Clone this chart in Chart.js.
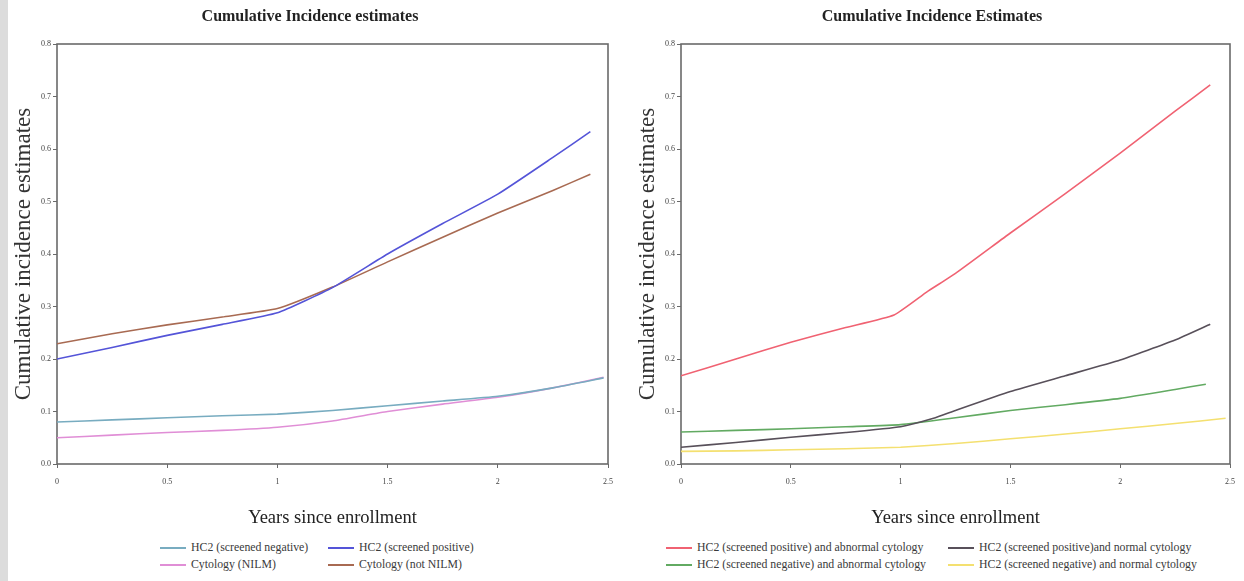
<!DOCTYPE html>
<html>
<head>
<meta charset="utf-8">
<script src="https://cdn.jsdelivr.net/npm/chart.js@4.4.1/dist/chart.umd.min.js"></script>
<style>
  body { margin: 0; width: 1244px; height: 581px; background: #fff; position: relative; overflow: hidden; font-family: 'Liberation Serif', serif; }
  .strip { position: absolute; left: 0; top: 0; width: 8px; height: 581px; background: #dcdcdc; }
  .box { position: absolute; top: 0; height: 540px; }
  .item { position: absolute; white-space: nowrap; font-size: 11.8px; color: #3a3a3a; line-height: 13px; }
  .item i { display: inline-block; width: 26px; height: 0; border-top: 2px solid; vertical-align: middle; margin-right: 5px; }
</style>
</head>
<body>
<div class="strip"></div>
<div class="box" style="left:0;width:622px"><canvas id="leftChart"></canvas></div>
<div class="box" style="left:624px;width:620px"><canvas id="rightChart"></canvas></div>
<div id="leftLegend"></div>
<div id="rightLegend"></div>
<script>
// time grid (years since enrollment)
const tMain = [0, 0.25, 0.5, 0.75, 1, 1.25, 1.5, 1.75, 2, 2.25, 2.42];
const tLong = [0, 0.25, 0.5, 0.75, 1, 1.25, 1.5, 1.75, 2, 2.25, 2.48];
const tRed = [0, 0.25, 0.5, 0.75, 0.97, 1.12, 1.25, 1.5, 1.75, 2, 2.25, 2.41];
const tGray = [0, 0.25, 0.5, 0.75, 1, 1.15, 1.25, 1.5, 1.75, 2, 2.25, 2.41];
const tGreen = [0, 0.25, 0.5, 0.75, 1, 1.25, 1.5, 1.75, 2, 2.25, 2.39];

// left panel
const hc2Neg = [0.080, 0.084, 0.088, 0.092, 0.095, 0.102, 0.111, 0.120, 0.129, 0.145, 0.164];
const hc2Pos = [0.200, 0.222, 0.245, 0.266, 0.288, 0.336, 0.400, 0.458, 0.514, 0.584, 0.633];
const cytoNilm = [0.050, 0.055, 0.060, 0.064, 0.070, 0.082, 0.100, 0.114, 0.127, 0.145, 0.165];
const cytoNotNilm = [0.229, 0.248, 0.265, 0.280, 0.296, 0.337, 0.385, 0.432, 0.478, 0.521, 0.552];

// right panel
const posAbnormal = [0.168, 0.200, 0.232, 0.260, 0.284, 0.328, 0.363, 0.440, 0.515, 0.592, 0.672, 0.722];
const posNormal = [0.032, 0.041, 0.051, 0.060, 0.071, 0.087, 0.102, 0.138, 0.168, 0.198, 0.236, 0.266];
const negAbnormal = [0.061, 0.064, 0.067, 0.071, 0.075, 0.088, 0.102, 0.113, 0.125, 0.142, 0.152];
const negNormal = [0.024, 0.025, 0.027, 0.029, 0.032, 0.039, 0.048, 0.057, 0.067, 0.077, 0.087];

const yTicks = [0, 0.1, 0.2, 0.3, 0.4, 0.5, 0.6, 0.7, 0.8];
const xTicks = [0, 0.5, 1, 1.5, 2, 2.5];

const leftSeries = [
  { label: 'HC2 (screened negative)', x: tLong, y: hc2Neg, color: '#78acc0' },
  { label: 'HC2 (screened positive)', x: tMain, y: hc2Pos, color: '#5454d8' },
  { label: 'Cytology (NILM)', x: tLong, y: cytoNilm, color: '#e08ed6' },
  { label: 'Cytology (not NILM)', x: tMain, y: cytoNotNilm, color: '#a86a52' }
];
const rightSeries = [
  { label: 'HC2 (screened positive) and abnormal cytology', x: tRed, y: posAbnormal, color: '#f06272' },
  { label: 'HC2 (screened positive)and normal cytology', x: tGray, y: posNormal, color: '#58505a' },
  { label: 'HC2 (screened negative) and abnormal cytology', x: tGreen, y: negAbnormal, color: '#62aa62' },
  { label: 'HC2 (screened negative) and normal cytology', x: tLong, y: negNormal, color: '#f4e070' }
];

const FONT = 'Liberation Serif, Times New Roman, serif';

const frame = {
  id: 'frame',
  beforeDatasetsDraw(chart) {
    const { ctx, chartArea: a } = chart;
    ctx.save();
    ctx.strokeStyle = '#6a6a6a';
    ctx.lineWidth = 1.6;
    ctx.strokeRect(a.left, a.top, a.right - a.left, a.bottom - a.top);
    ctx.restore();
  }
};

function makeChart(id, title, series, padRight) {
  const datasets = series.map(s => ({
    label: s.label,
    data: s.x.map((x, i) => ({ x: x, y: s.y[i] })),
    borderColor: s.color,
    borderWidth: 1.6,
    pointRadius: 0,
    fill: false,
    tension: 0.15
  }));
  return new Chart(document.getElementById(id), {
    type: 'line',
    data: { datasets: datasets },
    plugins: [frame],
    options: {
      responsive: true,
      maintainAspectRatio: false,
      animation: false,
      layout: { padding: { left: 8, right: padRight, top: 0, bottom: 0 } },
      plugins: {
        legend: { display: false },
        tooltip: { enabled: false },
        title: {
          display: true,
          text: title,
          color: '#222',
          font: { family: FONT, size: 16, weight: 'bold' },
          padding: { top: 7, bottom: 17.8 }
        }
      },
      scales: {
        x: {
          type: 'linear', min: 0, max: 2.5,
          afterBuildTicks: s => { s.ticks = xTicks.map(v => ({ value: v })); },
          ticks: { font: { family: FONT, size: 8 }, color: '#444', padding: 9, maxRotation: 0, callback: v => String(v) },
          grid: { drawOnChartArea: false, tickLength: 4, color: '#6a6a6a' },
          border: { display: false },
          title: { display: true, text: 'Years since enrollment', color: '#222', font: { family: FONT, size: 18.5 }, padding: { top: 4, bottom: 11 } },
          afterFit: s => { s.height = 76; }
        },
        y: {
          min: 0, max: 0.8,
          afterBuildTicks: s => { s.ticks = yTicks.map(v => ({ value: v })); },
          ticks: { font: { family: FONT, size: 8 }, color: '#444', padding: 2, callback: v => v.toFixed(1) },
          grid: { drawOnChartArea: false, tickLength: 4, color: '#6a6a6a' },
          border: { display: false },
          title: { display: true, text: 'Cumulative incidence estimates', color: '#333', font: { family: FONT, size: 23 }, padding: { top: 2, bottom: 0 } },
          afterFit: s => { s.width = 49; }
        }
      }
    }
  });
}

makeChart('leftChart', 'Cumulative Incidence estimates', leftSeries, 10);
makeChart('rightChart', 'Cumulative Incidence Estimates', rightSeries, 12);

// legends, two columns each
function makeLegend(id, series, cols, rows) {
  const box = document.getElementById(id);
  series.forEach((s, i) => {
    const el = document.createElement('div');
    el.className = 'item';
    el.style.left = cols[i % 2] + 'px';
    el.style.top = (rows[Math.floor(i / 2)] - 7) + 'px';
    el.innerHTML = '<i style="border-color:' + s.color + '"></i>' + s.label;
    box.appendChild(el);
  });
}
makeLegend('leftLegend', leftSeries, [160, 328], [548, 565]);
makeLegend('rightLegend', rightSeries, [666, 948], [548, 565]);
</script>
</body>
</html>
